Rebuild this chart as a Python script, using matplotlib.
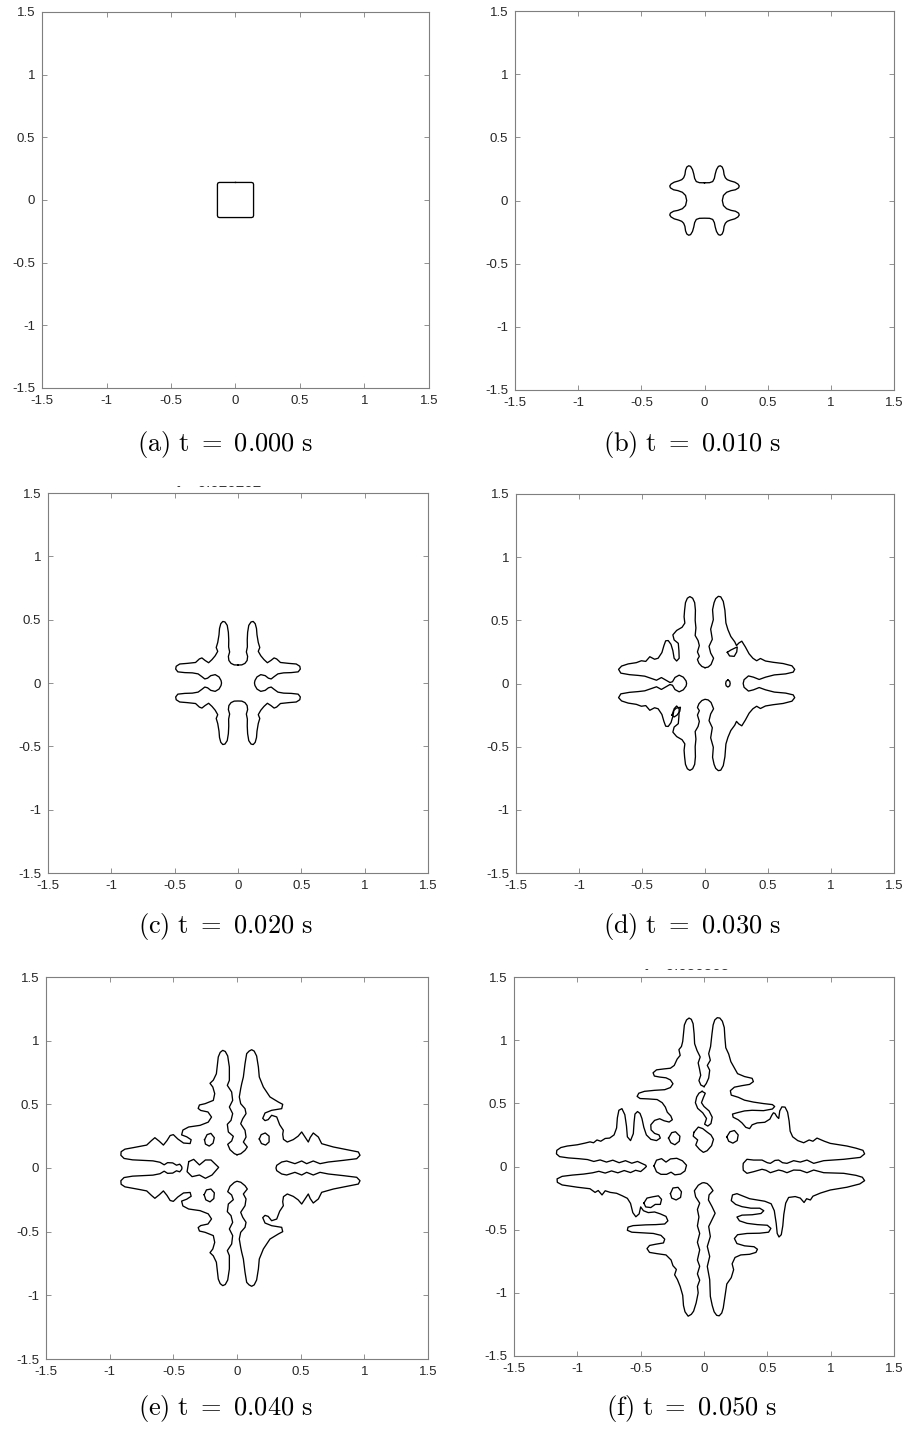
import numpy as np
import matplotlib.pyplot as plt
from matplotlib.transforms import Bbox, TransformedBbox

plt.rcParams['font.family'] = ['Liberation Sans', 'DejaVu Sans']
plt.rcParams['mathtext.fontset'] = 'cm'
plt.rcParams['axes.unicode_minus'] = False

tick_values = [-1.5, -1, -0.5, 0, 0.5, 1, 1.5]
tick_labels = ['-1.5', '-1', '-0.5', '0', '0.5', '1', '1.5']
panel_letters = ['a', 'b', 'c', 'd', 'e', 'f']
times = [0.000, 0.010, 0.020, 0.030, 0.040, 0.050]

# interface outlines, one quarter each: upper-left runs from the +y axis to the -x axis,
# lower-left from -x to -y, lower-right from -y to +x, upper-right from +x to +y
a_ul = [(0.000, 0.140), (-0.125, 0.140), (-0.136, 0.136), (-0.140, 0.125), (-0.140, 0.000)]

b_ul = [(0.000, 0.140), (-0.040, 0.141), (-0.065, 0.150), (-0.078, 0.175), (-0.085, 0.210),
        (-0.095, 0.245), (-0.110, 0.270), (-0.125, 0.275), (-0.140, 0.265), (-0.150, 0.240),
        (-0.155, 0.205), (-0.165, 0.180), (-0.180, 0.165), (-0.205, 0.155), (-0.240, 0.145),
        (-0.265, 0.130), (-0.275, 0.115), (-0.270, 0.100), (-0.245, 0.085), (-0.210, 0.078),
        (-0.175, 0.065), (-0.150, 0.040), (-0.141, 0.000)]

c_ul = [(0.000, 0.142), (-0.030, 0.143), (-0.055, 0.155), (-0.072, 0.178), (-0.076, 0.210),
        (-0.066, 0.245), (-0.074, 0.285), (-0.073, 0.340), (-0.076, 0.400), (-0.085, 0.455),
        (-0.103, 0.482), (-0.120, 0.486), (-0.136, 0.468), (-0.146, 0.430), (-0.150, 0.380),
        (-0.160, 0.320), (-0.172, 0.280), (-0.160, 0.250), (-0.180, 0.215), (-0.205, 0.185),
        (-0.232, 0.160), (-0.260, 0.178), (-0.285, 0.198), (-0.305, 0.190), (-0.335, 0.162),
        (-0.400, 0.155), (-0.460, 0.150), (-0.488, 0.132), (-0.492, 0.110), (-0.475, 0.088),
        (-0.420, 0.082), (-0.360, 0.080), (-0.315, 0.072), (-0.285, 0.050), (-0.262, 0.032),
        (-0.240, 0.038), (-0.215, 0.058), (-0.180, 0.066), (-0.150, 0.048), (-0.134, 0.020),
        (-0.130, 0.000)]

d_ul = [(0.000, 0.125), (-0.025, 0.135), (-0.048, 0.160), (-0.060, 0.190), (-0.045, 0.215),
        (-0.060, 0.250), (-0.045, 0.300), (-0.055, 0.340), (-0.078, 0.380), (-0.072, 0.440),
        (-0.078, 0.500), (-0.076, 0.580), (-0.082, 0.640), (-0.098, 0.675), (-0.120, 0.688),
        (-0.140, 0.675), (-0.155, 0.640), (-0.162, 0.580), (-0.166, 0.528), (-0.160, 0.478),
        (-0.182, 0.445), (-0.225, 0.420), (-0.255, 0.385), (-0.245, 0.345), (-0.212, 0.318),
        (-0.207, 0.260), (-0.205, 0.200), (-0.225, 0.178), (-0.245, 0.200), (-0.255, 0.260),
        (-0.270, 0.310), (-0.292, 0.340), (-0.312, 0.338), (-0.326, 0.300), (-0.342, 0.245),
        (-0.372, 0.200), (-0.400, 0.192), (-0.438, 0.212), (-0.470, 0.175), (-0.505, 0.180),
        (-0.545, 0.165), (-0.610, 0.155), (-0.662, 0.138), (-0.686, 0.112), (-0.668, 0.082),
        (-0.600, 0.070), (-0.530, 0.064), (-0.478, 0.058), (-0.425, 0.040), (-0.385, 0.026),
        (-0.346, 0.047), (-0.306, 0.024), (-0.278, 0.008), (-0.258, 0.014), (-0.238, 0.048),
        (-0.205, 0.066), (-0.172, 0.050), (-0.150, 0.020), (-0.146, 0.000)]

d_ur = [(0.303, 0.000), (0.310, 0.030), (0.345, 0.060), (0.385, 0.050), (0.430, 0.032),
        (0.480, 0.050), (0.550, 0.068), (0.640, 0.076), (0.700, 0.090), (0.712, 0.112),
        (0.690, 0.140), (0.620, 0.158), (0.540, 0.168), (0.480, 0.178), (0.440, 0.198),
        (0.410, 0.180), (0.380, 0.200), (0.350, 0.235), (0.320, 0.290), (0.292, 0.335),
        (0.268, 0.320), (0.250, 0.300), (0.236, 0.330), (0.205, 0.372), (0.182, 0.426),
        (0.166, 0.479), (0.158, 0.580), (0.145, 0.650), (0.125, 0.686), (0.106, 0.690),
        (0.085, 0.672), (0.072, 0.640), (0.060, 0.584), (0.066, 0.505), (0.045, 0.430),
        (0.058, 0.350), (0.032, 0.294), (0.045, 0.241), (0.068, 0.200), (0.048, 0.150),
        (0.025, 0.130), (0.000, 0.125)]

d_islands = [
    [(0.182, 0.028), (0.196, 0.018), (0.200, 0.000), (0.196, -0.018), (0.182, -0.028),
     (0.168, -0.018), (0.164, 0.000), (0.168, 0.018)],
    [(0.177, 0.247), (0.205, 0.265), (0.240, 0.282), (0.256, 0.289), (0.252, 0.250),
     (0.232, 0.215), (0.195, 0.218)],
    [(-0.262, -0.250), (-0.250, -0.215), (-0.228, -0.195), (-0.195, -0.188), (-0.200, -0.220),
     (-0.222, -0.250), (-0.245, -0.265)],
]

e_ul = [(0.000, 0.104), (-0.021, 0.113), (-0.055, 0.144), (-0.073, 0.186), (-0.042, 0.212),
        (-0.029, 0.249), (-0.068, 0.283), (-0.076, 0.343), (-0.047, 0.374), (-0.034, 0.427),
        (-0.060, 0.479), (-0.034, 0.531), (-0.042, 0.597), (-0.076, 0.649), (-0.060, 0.688),
        (-0.060, 0.793), (-0.073, 0.880), (-0.092, 0.915), (-0.112, 0.924), (-0.132, 0.908),
        (-0.147, 0.872), (-0.155, 0.800), (-0.162, 0.740), (-0.186, 0.690), (-0.212, 0.665),
        (-0.190, 0.636), (-0.175, 0.584), (-0.186, 0.531), (-0.251, 0.505), (-0.295, 0.495),
        (-0.305, 0.468), (-0.285, 0.452), (-0.228, 0.440), (-0.200, 0.400), (-0.226, 0.360),
        (-0.290, 0.335), (-0.380, 0.322), (-0.425, 0.298), (-0.435, 0.260), (-0.395, 0.245),
        (-0.360, 0.222), (-0.368, 0.192), (-0.420, 0.196), (-0.465, 0.228), (-0.500, 0.262),
        (-0.525, 0.255), (-0.550, 0.215), (-0.578, 0.180), (-0.610, 0.210), (-0.645, 0.238),
        (-0.672, 0.215), (-0.709, 0.180), (-0.760, 0.170), (-0.814, 0.160), (-0.880, 0.148),
        (-0.910, 0.128), (-0.912, 0.100), (-0.887, 0.075), (-0.820, 0.064), (-0.740, 0.060),
        (-0.660, 0.056), (-0.605, 0.045), (-0.572, 0.025), (-0.545, 0.042), (-0.505, 0.040),
        (-0.475, 0.022), (-0.450, 0.030), (-0.435, 0.012), (-0.432, 0.000)]

e_ur = [(0.306, 0.000), (0.312, 0.021), (0.351, 0.047), (0.390, 0.055), (0.455, 0.034),
        (0.508, 0.055), (0.547, 0.034), (0.599, 0.055), (0.652, 0.034), (0.717, 0.047),
        (0.835, 0.060), (0.940, 0.073), (0.966, 0.100), (0.953, 0.126), (0.861, 0.144),
        (0.757, 0.165), (0.665, 0.191), (0.639, 0.243), (0.599, 0.275), (0.575, 0.240),
        (0.560, 0.204), (0.534, 0.243), (0.508, 0.283), (0.480, 0.250), (0.442, 0.223),
        (0.395, 0.204), (0.365, 0.225), (0.359, 0.265), (0.364, 0.296), (0.335, 0.340),
        (0.312, 0.401), (0.272, 0.414), (0.245, 0.380), (0.220, 0.372), (0.202, 0.390),
        (0.220, 0.432), (0.272, 0.453), (0.351, 0.466), (0.359, 0.500), (0.325, 0.518),
        (0.259, 0.558), (0.207, 0.636), (0.175, 0.715), (0.168, 0.793), (0.154, 0.880),
        (0.135, 0.918), (0.115, 0.929), (0.095, 0.918), (0.076, 0.898), (0.063, 0.819),
        (0.050, 0.715), (0.037, 0.662), (0.029, 0.623), (0.018, 0.558), (0.029, 0.505),
        (0.063, 0.466), (0.071, 0.427), (0.045, 0.387), (0.029, 0.348), (0.063, 0.296),
        (0.071, 0.243), (0.050, 0.204), (0.081, 0.165), (0.063, 0.139), (0.030, 0.112),
        (0.000, 0.104)]

e_islands = [
    [(-0.255, 0.222), (-0.235, 0.262), (-0.205, 0.272), (-0.178, 0.238), (-0.188, 0.195),
     (-0.218, 0.172), (-0.248, 0.188)],
    [(0.175, 0.228), (0.190, 0.262), (0.222, 0.275), (0.252, 0.250), (0.252, 0.205),
     (0.225, 0.180), (0.192, 0.192)],
    [(-0.258, -0.210), (-0.240, -0.172), (-0.205, -0.165), (-0.178, -0.195), (-0.182, -0.240),
     (-0.212, -0.266), (-0.245, -0.250)],
    [(-0.379, 0.050), (-0.340, 0.068), (-0.295, 0.024), (-0.248, 0.063), (-0.204, 0.063),
     (-0.144, 0.005), (-0.196, -0.055), (-0.248, -0.081), (-0.295, -0.055), (-0.353, -0.068),
     (-0.392, -0.029)],
]

f_ul = [(0.000, 0.632), (-0.025, 0.645), (-0.040, 0.680), (-0.026, 0.722), (-0.036, 0.775),
        (-0.046, 0.820), (-0.030, 0.867), (-0.055, 0.918), (-0.074, 0.972), (-0.078, 1.050),
        (-0.086, 1.130), (-0.100, 1.165), (-0.118, 1.175), (-0.138, 1.160), (-0.155, 1.120),
        (-0.162, 1.050), (-0.168, 0.990), (-0.178, 0.950), (-0.198, 0.925), (-0.188, 0.880),
        (-0.212, 0.850), (-0.235, 0.800), (-0.265, 0.778), (-0.320, 0.772), (-0.375, 0.765),
        (-0.402, 0.742), (-0.392, 0.716), (-0.350, 0.708), (-0.300, 0.702), (-0.265, 0.685),
        (-0.245, 0.655), (-0.265, 0.625), (-0.310, 0.608), (-0.390, 0.603), (-0.470, 0.595),
        (-0.515, 0.580), (-0.528, 0.555), (-0.505, 0.538), (-0.440, 0.535), (-0.370, 0.530),
        (-0.330, 0.505), (-0.305, 0.470), (-0.290, 0.430), (-0.262, 0.400), (-0.250, 0.370),
        (-0.275, 0.352), (-0.315, 0.362), (-0.350, 0.378), (-0.390, 0.365), (-0.420, 0.330),
        (-0.418, 0.290), (-0.390, 0.262), (-0.355, 0.250), (-0.345, 0.225), (-0.375, 0.205),
        (-0.420, 0.215), (-0.455, 0.250), (-0.475, 0.310), (-0.490, 0.380), (-0.505, 0.420),
        (-0.525, 0.435), (-0.545, 0.415), (-0.552, 0.350), (-0.558, 0.260), (-0.580, 0.205),
        (-0.605, 0.235), (-0.612, 0.320), (-0.625, 0.410), (-0.648, 0.458), (-0.672, 0.445),
        (-0.684, 0.385), (-0.690, 0.305), (-0.710, 0.250), (-0.745, 0.225), (-0.780, 0.222),
        (-0.815, 0.200), (-0.845, 0.210), (-0.872, 0.188), (-0.900, 0.195), (-0.940, 0.185),
        (-1.000, 0.172), (-1.080, 0.162), (-1.130, 0.150), (-1.162, 0.128), (-1.165, 0.100),
        (-1.140, 0.078), (-1.070, 0.068), (-0.990, 0.062), (-0.920, 0.055), (-0.870, 0.040),
        (-0.820, 0.052), (-0.770, 0.035), (-0.720, 0.050), (-0.670, 0.030), (-0.620, 0.046),
        (-0.570, 0.026), (-0.525, 0.040), (-0.485, 0.022), (-0.460, 0.010), (-0.455, 0.000)]

f_ll = [(-0.455, 0.000), (-0.470, -0.015), (-0.500, -0.040), (-0.540, -0.030), (-0.580, -0.048),
        (-0.630, -0.032), (-0.680, -0.050), (-0.730, -0.035), (-0.780, -0.052), (-0.830, -0.038),
        (-0.880, -0.050), (-0.950, -0.060), (-1.040, -0.068), (-1.120, -0.078), (-1.160, -0.098),
        (-1.158, -0.125), (-1.120, -0.146), (-1.000, -0.164), (-0.900, -0.176), (-0.860, -0.205),
        (-0.835, -0.190), (-0.805, -0.225), (-0.780, -0.192), (-0.740, -0.205), (-0.690, -0.212),
        (-0.645, -0.232), (-0.605, -0.252), (-0.580, -0.292), (-0.562, -0.365), (-0.538, -0.398),
        (-0.512, -0.375), (-0.500, -0.320), (-0.478, -0.350), (-0.440, -0.365), (-0.390, -0.360),
        (-0.345, -0.375), (-0.300, -0.395), (-0.285, -0.430), (-0.310, -0.455), (-0.380, -0.460),
        (-0.460, -0.462), (-0.560, -0.468), (-0.600, -0.480), (-0.605, -0.505), (-0.570, -0.520),
        (-0.480, -0.525), (-0.400, -0.530), (-0.340, -0.545), (-0.310, -0.575), (-0.320, -0.605),
        (-0.380, -0.615), (-0.430, -0.625), (-0.450, -0.650), (-0.430, -0.680), (-0.370, -0.690),
        (-0.300, -0.700), (-0.260, -0.740), (-0.245, -0.785), (-0.218, -0.815), (-0.232, -0.857),
        (-0.210, -0.895), (-0.188, -0.950), (-0.168, -1.020), (-0.162, -1.100), (-0.150, -1.150),
        (-0.125, -1.185), (-0.100, -1.170), (-0.082, -1.145), (-0.062, -1.080), (-0.046, -1.000),
        (-0.052, -0.950), (-0.034, -0.900), (-0.052, -0.850), (-0.034, -0.790), (-0.052, -0.740),
        (-0.034, -0.660), (-0.052, -0.600), (-0.034, -0.530), (-0.052, -0.470), (-0.040, -0.400),
        (-0.052, -0.340), (-0.034, -0.290), (-0.066, -0.240), (-0.076, -0.192), (-0.045, -0.148),
        (-0.015, -0.130), (0.000, -0.128)]

f_lr = [(0.000, -0.128), (0.025, -0.135), (0.050, -0.159), (0.071, -0.191), (0.040, -0.225),
        (0.035, -0.265), (0.063, -0.317), (0.088, -0.370), (0.063, -0.422), (0.037, -0.475),
        (0.050, -0.554), (0.026, -0.633), (0.045, -0.712), (0.026, -0.791), (0.045, -0.896),
        (0.050, -1.028), (0.065, -1.100), (0.080, -1.150), (0.100, -1.178), (0.120, -1.182),
        (0.140, -1.160), (0.152, -1.120), (0.165, -1.030), (0.180, -0.930), (0.215, -0.880),
        (0.234, -0.817), (0.222, -0.770), (0.245, -0.720), (0.290, -0.700), (0.360, -0.695),
        (0.410, -0.680), (0.422, -0.655), (0.395, -0.635), (0.320, -0.628), (0.260, -0.610),
        (0.240, -0.570), (0.265, -0.540), (0.340, -0.530), (0.440, -0.528), (0.510, -0.520),
        (0.528, -0.490), (0.500, -0.465), (0.420, -0.460), (0.340, -0.450), (0.280, -0.430),
        (0.260, -0.400), (0.300, -0.385), (0.380, -0.382), (0.450, -0.372), (0.472, -0.350),
        (0.440, -0.330), (0.370, -0.330), (0.300, -0.318), (0.250, -0.300), (0.215, -0.270),
        (0.225, -0.225), (0.260, -0.215), (0.310, -0.235), (0.360, -0.255), (0.420, -0.265),
        (0.480, -0.275), (0.530, -0.295), (0.555, -0.350), (0.570, -0.450), (0.578, -0.530),
        (0.592, -0.558), (0.610, -0.540), (0.622, -0.470), (0.630, -0.380), (0.645, -0.290),
        (0.668, -0.245), (0.720, -0.238), (0.760, -0.250), (0.790, -0.285), (0.810, -0.255),
        (0.840, -0.265), (0.860, -0.235), (0.920, -0.210), (0.997, -0.186), (1.129, -0.164),
        (1.230, -0.138), (1.268, -0.112), (1.250, -0.085), (1.200, -0.070), (1.103, -0.054),
        (0.945, -0.049), (0.866, -0.028), (0.813, -0.049), (0.760, -0.030), (0.708, -0.028),
        (0.655, -0.049), (0.620, -0.035), (0.589, -0.028), (0.524, -0.049), (0.490, -0.030),
        (0.458, -0.022), (0.392, -0.041), (0.339, -0.054), (0.310, -0.030), (0.308, 0.000)]

f_ur = [(0.308, 0.000), (0.310, 0.025), (0.339, 0.057), (0.392, 0.051), (0.458, 0.051),
        (0.500, 0.030), (0.524, 0.025), (0.560, 0.048), (0.589, 0.051), (0.620, 0.030),
        (0.655, 0.025), (0.708, 0.046), (0.760, 0.035), (0.813, 0.051), (0.866, 0.025),
        (0.945, 0.046), (1.103, 0.057), (1.234, 0.072), (1.268, 0.100), (1.255, 0.128),
        (1.200, 0.145), (1.129, 0.162), (1.050, 0.175), (0.997, 0.183), (0.950, 0.200),
        (0.892, 0.225), (0.860, 0.200), (0.830, 0.210), (0.787, 0.188), (0.740, 0.205),
        (0.700, 0.235), (0.680, 0.280), (0.672, 0.360), (0.660, 0.430), (0.640, 0.470),
        (0.615, 0.472), (0.598, 0.440), (0.590, 0.380), (0.575, 0.395), (0.560, 0.420),
        (0.548, 0.425), (0.535, 0.405), (0.520, 0.375), (0.480, 0.350), (0.420, 0.345),
        (0.380, 0.330), (0.360, 0.300), (0.330, 0.310), (0.300, 0.345), (0.270, 0.370),
        (0.230, 0.390), (0.225, 0.415), (0.260, 0.425), (0.320, 0.440), (0.380, 0.445),
        (0.470, 0.442), (0.540, 0.455), (0.558, 0.475), (0.540, 0.490), (0.470, 0.498),
        (0.390, 0.510), (0.320, 0.525), (0.270, 0.548), (0.215, 0.565), (0.208, 0.600),
        (0.240, 0.628), (0.300, 0.640), (0.360, 0.650), (0.390, 0.672), (0.380, 0.698),
        (0.320, 0.712), (0.265, 0.735), (0.240, 0.780), (0.212, 0.830), (0.195, 0.890),
        (0.172, 0.940), (0.165, 1.020), (0.160, 1.100), (0.145, 1.150), (0.125, 1.175),
        (0.105, 1.178), (0.085, 1.160), (0.072, 1.120), (0.063, 1.050), (0.052, 0.950),
        (0.037, 0.893), (0.050, 0.841), (0.026, 0.800), (0.045, 0.762), (0.037, 0.700),
        (0.018, 0.657), (0.000, 0.632)]

f_islands = [
    [(-0.015, 0.595), (0.010, 0.580), (-0.005, 0.545), (-0.020, 0.505), (0.000, 0.475),
     (0.040, 0.440), (0.065, 0.390), (0.055, 0.340), (0.030, 0.320), (0.005, 0.335),
     (0.020, 0.380), (-0.010, 0.425), (-0.050, 0.460), (-0.068, 0.505), (-0.058, 0.550),
     (-0.040, 0.580)],
    [(-0.080, 0.270), (-0.045, 0.312), (-0.010, 0.300), (0.025, 0.272), (0.055, 0.250),
     (0.075, 0.215), (0.060, 0.165), (0.025, 0.125), (-0.005, 0.112), (-0.035, 0.135),
     (-0.065, 0.170), (-0.050, 0.210), (-0.085, 0.240)],
    [(-0.280, 0.225), (-0.255, 0.268), (-0.225, 0.275), (-0.190, 0.240), (-0.195, 0.200),
     (-0.230, 0.172), (-0.262, 0.188)],
    [(0.180, 0.235), (0.205, 0.275), (0.240, 0.285), (0.270, 0.250), (0.262, 0.205),
     (0.228, 0.185), (0.195, 0.200)],
    [(-0.265, -0.215), (-0.245, -0.170), (-0.205, -0.165), (-0.178, -0.200), (-0.185, -0.245),
     (-0.220, -0.265), (-0.255, -0.250)],
    [(-0.475, -0.290), (-0.450, -0.250), (-0.405, -0.240), (-0.360, -0.232), (-0.335, -0.260),
     (-0.345, -0.300), (-0.385, -0.300), (-0.420, -0.325), (-0.460, -0.320)],
    [(-0.395, 0.005), (-0.375, 0.050), (-0.335, 0.062), (-0.300, 0.035), (-0.265, 0.060),
     (-0.215, 0.065), (-0.170, 0.045), (-0.138, 0.010), (-0.150, -0.035), (-0.185, -0.060),
     (-0.230, -0.066), (-0.260, -0.045), (-0.295, -0.062), (-0.340, -0.062), (-0.375, -0.042)],
]

# leftover plot titles, mostly hidden under the panels above them
stray_titles = {2: 't = 0.020202', 5: 't = 0.050505'}


def flip_x(pts):
    return [(-x, y) for x, y in pts][::-1]


def flip_y(pts):
    return [(x, -y) for x, y in pts][::-1]


def closed_outline(ul, ll=None, lr=None, ur=None):
    # missing quarters are filled in by reflection across the axes
    if ur is None:
        ur = flip_x(ul)
    if ll is None:
        ll = flip_y(ul)
    if lr is None:
        lr = flip_y(ur)
    pts = ul + ll + lr + ur
    pts.append(pts[0])
    return np.array(pts)


def closed_loop(pts):
    return np.array(pts + [pts[0]])


panel_curves = [
    [closed_outline(a_ul)],
    [closed_outline(b_ul)],
    [closed_outline(c_ul)],
    [closed_outline(d_ul, ur=d_ur)] + [closed_loop(p) for p in d_islands],
    [closed_outline(e_ul, ur=e_ur)] + [closed_loop(p) for p in e_islands],
    [closed_outline(f_ul, f_ll, f_lr, f_ur)] + [closed_loop(p) for p in f_islands],
]

# axes boxes in pixels: left, top, right, bottom
W, H = 908, 1430
boxes = [(42, 12, 429, 388), (515, 11, 894, 390),
         (48, 493, 428, 873), (516, 494, 894, 873),
         (46, 977, 428, 1359), (514, 977, 894, 1356)]
caption_xy = [(225, 444), (692, 444), (225, 926), (692, 926), (225, 1409), (692, 1409)]
stray_xy = {2: (176, 487), 5: (644, 970)}

fig = plt.figure(figsize=(W / 100, H / 100), dpi=100)

for i, (l, t, r, b) in enumerate(boxes):
    ax = fig.add_axes([l / W, 1 - b / H, (r - l) / W, (b - t) / H])
    for xy in panel_curves[i]:
        ax.plot(xy[:, 0], xy[:, 1], color='black', lw=0.95, solid_joinstyle='round')
    ax.set_xlim(-1.5, 1.5)
    ax.set_ylim(-1.5, 1.5)
    ax.set_xticks(tick_values)
    ax.set_xticklabels(tick_labels)
    ax.set_yticks(tick_values)
    ax.set_yticklabels(tick_labels)
    ax.tick_params(direction='in', length=3.5, width=0.6, color='#7f7f7f',
                   top=True, right=True, labelsize=9.5, labelcolor='#262626', pad=5)
    for s in ax.spines.values():
        s.set_color('#7f7f7f')
        s.set_linewidth(0.8)

    cx, cy = caption_xy[i]
    label = (r'$\mathrm{(' + panel_letters[i] + r')\ t}\ =\ \mathrm{'
             + f'{times[i]:.3f}' + r'\ s}$')
    fig.text(cx / W, 1 - cy / H, label, ha='center', va='center', fontsize=19)

    if i in stray_titles:
        # only the bottom sliver of these titles shows above the frame
        sx, sy = stray_xy[i]
        txt = fig.text(sx / W, 1 - sy / H, stray_titles[i], ha='left', va='baseline',
                       fontsize=11, color='#333333')
        clip = Bbox([[(sx - 5) / W, (H - sy - 0.5) / H], [(sx + 110) / W, (H - sy + 1.5) / H]])
        txt.set_clip_box(TransformedBbox(clip, fig.transFigure))
        txt.set_clip_on(True)

fig.savefig('out.png', dpi=100)
